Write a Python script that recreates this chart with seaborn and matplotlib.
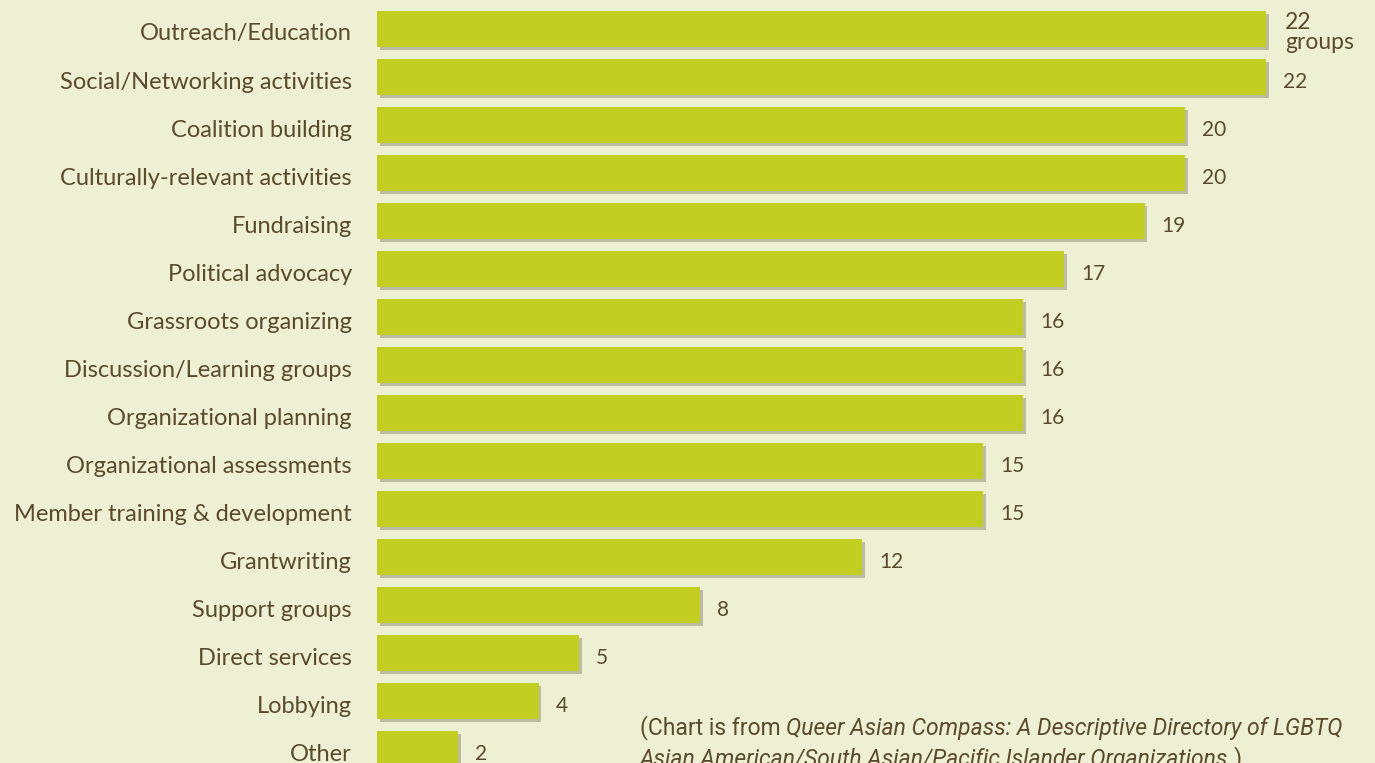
import matplotlib
matplotlib.use("Agg")
import matplotlib.pyplot as plt
import matplotlib.patheffects as pe
import matplotlib.transforms as mtransforms
import seaborn as sns
import pandas as pd

categories = ["Outreach/Education", "Social/Networking activities", "Coalition building",
              "Culturally-relevant activities", "Fundraising", "Political advocacy",
              "Grassroots organizing", "Discussion/Learning groups", "Organizational planning",
              "Organizational assessments", "Member training & development", "Grantwriting",
              "Support groups", "Direct services", "Lobbying", "Other"]
values = [22, 22, 20, 20, 19, 17, 16, 16, 16, 15, 15, 12, 8, 5, 4, 2]
value_labels = ["22\ngroups", "22", "20", "20", "19", "17", "16", "16", "16", "15", "15",
                "12", "8", "5", "4", "2"]

BG = "#EDF0D3"
BAR = "#C3CE23"
TXT = "#5B4A2B"

sns.set_theme(style="white")
plt.rcParams["font.family"] = ["Lato", "DejaVu Sans"]

df = pd.DataFrame({"cat": categories, "val": values})

fig = plt.figure(figsize=(13.75, 7.63), dpi=100, facecolor=BG)
ax = fig.add_axes([377 / 1375, 0, 1 - 377 / 1375, 1])
ax.set_facecolor(BG)

sns.barplot(data=df, x="val", y="cat", orient="h", color=BAR, width=0.75,
            saturation=1, ax=ax, edgecolor="none")

for p in ax.patches:
    p.set_path_effects([pe.SimplePatchShadow(offset=(2, -2), shadow_rgbFace="#8a8a70", alpha=0.5),
                        pe.Normal()])

ax.set_xlim(0, (1375 - 377) / 40.4)
ax.set_ylim(15.29, -0.604)

for i, (v, lab) in enumerate(zip(values, value_labels)):
    if i == 0:
        ax.text(v + 0.47, i + 0.08, lab, ha="left", va="center", fontsize=16.5,
                color=TXT, linespacing=0.95)
    else:
        ax.text(v + 0.42, i + 0.1, lab, ha="left", va="center", fontsize=15, color=TXT)

ax.set_xlabel("")
ax.set_ylabel("")
ax.set_xticks([])
ax.tick_params(axis="y", length=0, pad=18, labelsize=17, labelcolor=TXT)
shift = mtransforms.ScaledTranslation(0, -3 / 100, fig.dpi_scale_trans)
for lbl in ax.get_yticklabels():
    lbl.set_transform(lbl.get_transform() + shift)
for s in ax.spines.values():
    s.set_visible(False)

cite_font = ["Liberation Sans Narrow", "Roboto", "DejaVu Sans"]
t1 = fig.text(640 / 1375, 1 - 734 / 763, "(Chart is from ", fontsize=16.5, color=TXT,
              family=cite_font, va="baseline")
t2 = ax.annotate("Queer Asian Compass: A Descriptive Directory of LGBTQ", xy=(1, 0),
                 xycoords=t1, fontsize=16.5, color=TXT, family=cite_font, style="italic",
                 va="bottom", ha="left", annotation_clip=False)
t3 = fig.text(640 / 1375, 1 - 766 / 763, "Asian American/South Asian/Pacific Islander Organizations",
              fontsize=16.5, color=TXT, family=cite_font, style="italic", va="baseline")
t4 = ax.annotate(".)", xy=(1, 0), xycoords=t3, fontsize=16.5, color=TXT, family=cite_font,
                 va="bottom", ha="left", annotation_clip=False)

fig.savefig("out.png", dpi=100, facecolor=BG)
